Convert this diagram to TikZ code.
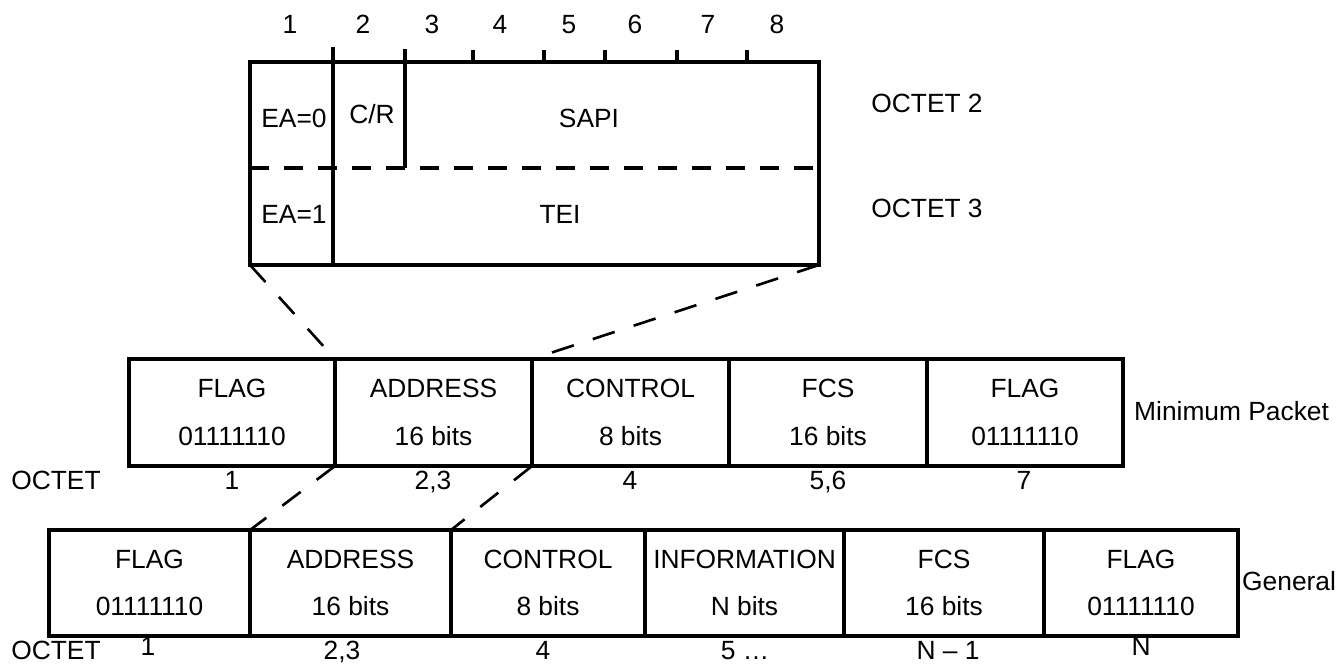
\documentclass[tikz,border=0pt]{standalone}
\usepackage{fontspec}
\setmainfont{Liberation Sans}

\begin{document}
\begin{tikzpicture}[x=0.02cm,y=-0.02cm,font=\fontsize{15}{27}\selectfont,
  field/.style={draw,line width=1.8pt,inner sep=0pt,outer sep=0pt,align=center},
  num/.style={text height=11pt,text depth=3pt},
  cut/.style={line width=1.5pt,dash pattern=on 0.46cm off 0.4cm}]
  \useasboundingbox (0,0) rectangle (1337,666);
  \node[field,minimum width=11.38cm,minimum height=4.06cm] (tb) at (534.5,163.5) {};
  \draw[line width=1.8pt] (333,47) -- (333,265);
  \draw[line width=1.8pt] (405,49) -- (405,168);
  \draw[line width=1.8pt,dash pattern=on 0.38cm off 0.3cm] (250,168) -- (819,168);
  \foreach \x in {473,544,605,677,747}
    \draw[line width=1.8pt] (\x,50) -- (\x,62);
  \foreach \x/\n in {290/1,363/2,432/3,500/4,569/5,635/6,708/7,777/8}
    \node[num] (t\n) at (\x,26) {\n};
  \node[num] (ea0) at (294,120) {EA=0};
  \node[num] (cr) at (372,116) {C/R};
  \node[num] (sapi) at (589,120) {SAPI};
  \node[num] (ea1) at (294,216) {EA=1};
  \node[num] (tei) at (560,216) {TEI};
  \node[num] (o2) at (927,105) {OCTET 2};
  \node[num] (o3) at (927,210) {OCTET 3};

  \node[field,minimum width=4.12cm,minimum height=2.14cm] (m1) at (232,412.5) {FLAG\\01111110};
  \node[field,minimum width=3.94cm,minimum height=2.14cm] (m2) at (433.5,412.5) {ADDRESS\\16 bits};
  \node[field,minimum width=3.94cm,minimum height=2.14cm] (m3) at (630.5,412.5) {CONTROL\\8 bits};
  \node[field,minimum width=3.96cm,minimum height=2.14cm] (m4) at (828,412.5) {FCS\\16 bits};
  \node[field,minimum width=3.92cm,minimum height=2.14cm] (m5) at (1025,412.5) {FLAG\\01111110};
  \node[anchor=west,num] (mp) at (1128,413) {Minimum Packet};
  \node[num] (mo) at (56,482) {OCTET};
  \node[num] (mo1) at (232,482) {1};
  \node[num] (mo2) at (433,482) {2,3};
  \node[num] (mo3) at (630,482) {4};
  \node[num] (mo4) at (828,482) {5,6};
  \node[num] (mo5) at (1024,482) {7};

  \node[field,minimum width=4.02cm,minimum height=2.12cm] (g1) at (149.5,583) {FLAG\\01111110};
  \node[field,minimum width=4.02cm,minimum height=2.12cm] (g2) at (350.5,583) {ADDRESS\\16 bits};
  \node[field,minimum width=3.88cm,minimum height=2.12cm] (g3) at (548,583) {CONTROL\\8 bits};
  \node[field,minimum width=3.98cm,minimum height=2.12cm] (g4) at (744.5,583) {INFORMATION\\N bits};
  \node[field,minimum width=4.00cm,minimum height=2.12cm] (g5) at (944,583) {FCS\\16 bits};
  \node[field,minimum width=3.88cm,minimum height=2.12cm] (g6) at (1141,583) {FLAG\\01111110};
  \node[anchor=west,num] (gl) at (1236,583) {General};
  \node[num] (go) at (56,652) {OCTET};
  \node[num] (go1) at (148,648) {1};
  \node[num] (go2) at (342,652) {2,3};
  \node[num] (go3) at (543,652) {4};
  \node[num] (go4) at (745,652) {5 …};
  \node[num] (go5) at (948,652) {N – 1};
  \node[num] (go6) at (1141,648) {N};

  \draw[cut] (tb.south west) -- (m2.north west);
  \draw[cut] (tb.south east) -- (m3.north west);
  \draw[cut] (m2.south west) -- (g2.north west);
  \draw[cut] (m3.south west) -- (g3.north west);
\end{tikzpicture}
\end{document}
